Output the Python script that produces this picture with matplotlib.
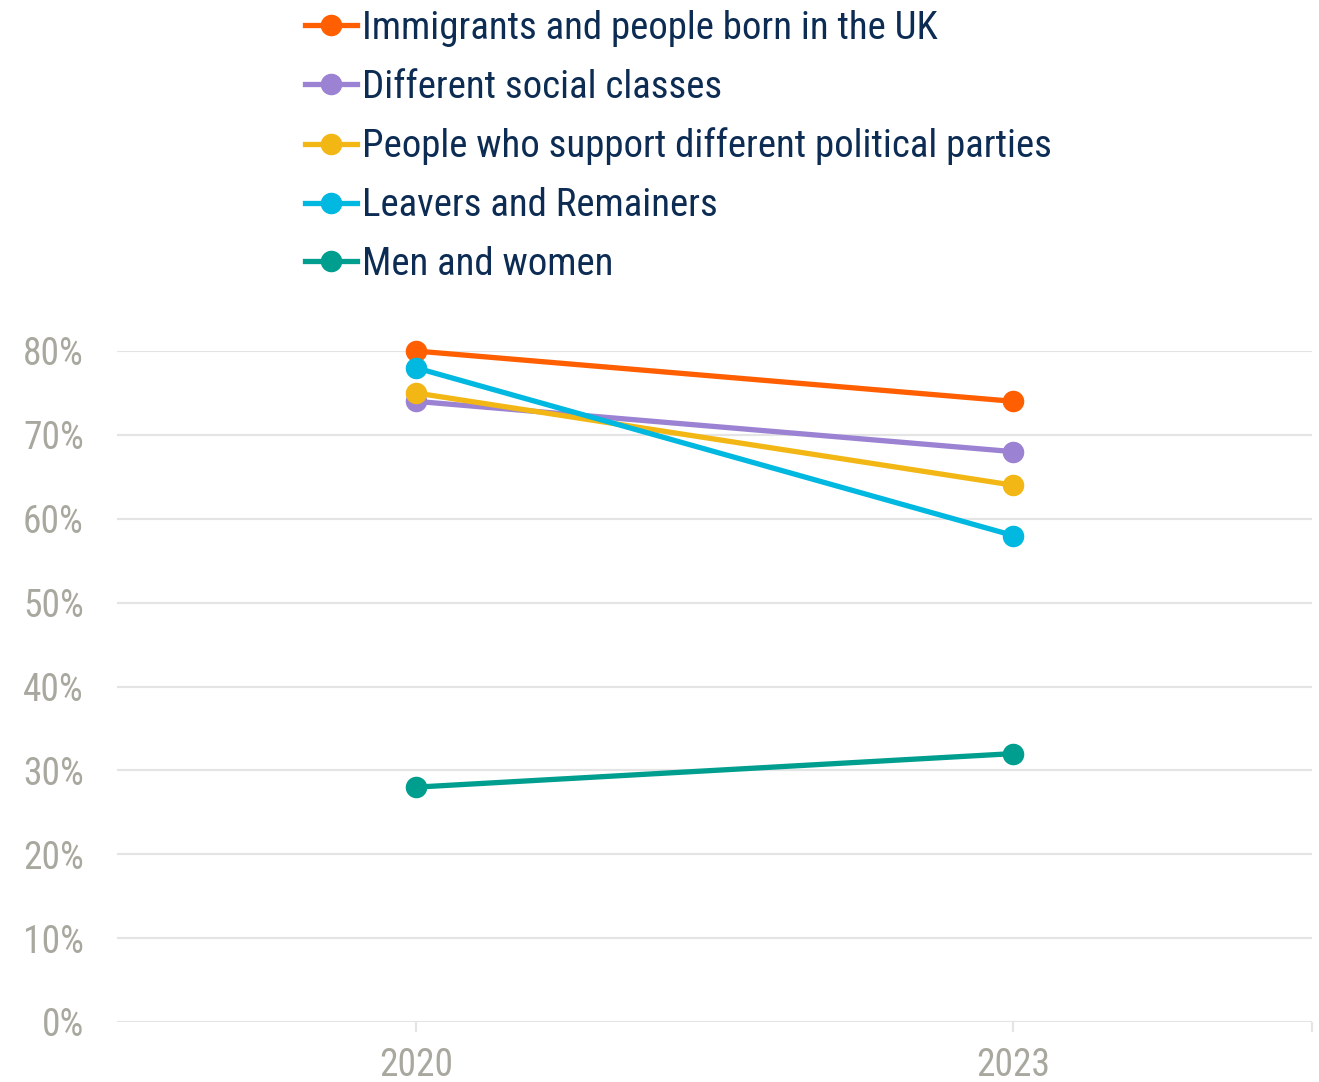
import matplotlib.pyplot as plt
from matplotlib import font_manager
from matplotlib.ticker import FuncFormatter

years = ['2020', '2023']
series_names = [
    'Immigrants and people born in the UK',
    'Different social classes',
    'People who support different political parties',
    'Leavers and Remainers',
    'Men and women',
]
immigrants = [80, 74]
social_classes = [74, 68]
political_parties = [75, 64]
leavers_remainers = [78, 58]
men_women = [28, 32]
colors = ['#ff5f00', '#9b82d2', '#f2b714', '#00b8e0', '#009e8e']

# pick a narrow face if one is around
installed = {f.name for f in font_manager.fontManager.ttflist}
narrow = [n for n in ('Liberation Sans Narrow', 'DejaVu Sans Condensed', 'Roboto Condensed')
          if n in installed]
plt.rcParams['font.family'] = narrow + ['DejaVu Sans']
plt.rcParams['font.stretch'] = 'condensed'

fig = plt.figure(figsize=(13.19, 10.82), dpi=100)
ax = fig.add_axes([117 / 1319, 60 / 1082, (1312 - 117) / 1319, (1022 - 351) / 1082])

x = range(len(years))
all_series = [immigrants, social_classes, political_parties, leavers_remainers, men_women]
for vals, name, c in zip(all_series, series_names, colors):
    ax.plot(x, vals, color=c, lw=3.8, marker='o', ms=14.5, label=name, clip_on=False)

ax.set_xlim(-0.5, 1.5)
ax.set_ylim(0, 80)
ax.set_yticks(range(0, 81, 10))
ax.yaxis.set_major_formatter(FuncFormatter(lambda v, p: f'{v:.0f}%'))
ax.set_xticks(list(x))
ax.set_xticklabels(years)
ax.set_xticks([1.5], minor=True)

ax.grid(axis='y', color='#e4e4e4', lw=1.6)
ax.set_axisbelow(True)
for s in ax.spines.values():
    s.set_visible(False)
ax.tick_params(axis='y', length=0, pad=24, labelsize=27, labelcolor='#a8a89f')
ax.tick_params(axis='x', which='both', length=7, width=1.5, color='#e4e4e4',
               pad=11, labelsize=27, labelcolor='#a8a89f')

leg = fig.legend(loc='upper left', bbox_to_anchor=(305 / 1319, 1.0 - 10 / 1082),
                 frameon=False, fontsize=28, handlelength=1.34, handletextpad=0.13,
                 labelspacing=0.56, borderpad=0.0, borderaxespad=0.0)
for t in leg.get_texts():
    t.set_color('#0d2c54')

fig.savefig('out.png', dpi=100)
